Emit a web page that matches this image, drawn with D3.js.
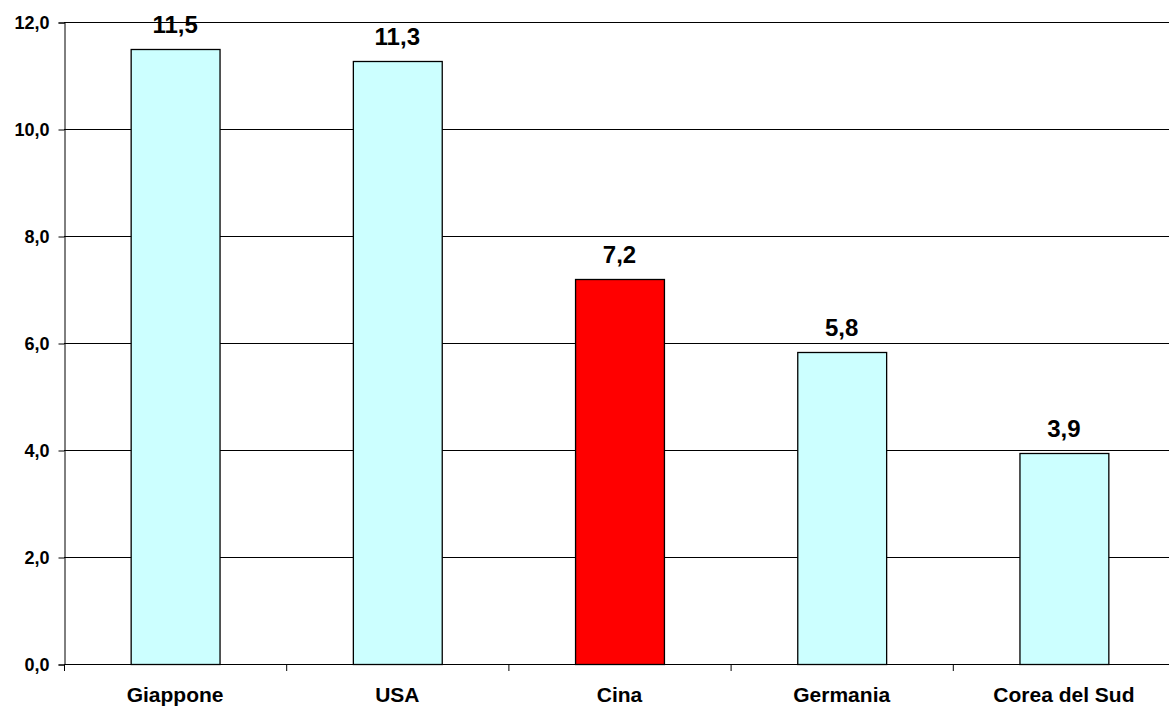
<!DOCTYPE html>
<html>
<head>
<meta charset="utf-8">
<script src="https://cdn.jsdelivr.net/npm/d3@7"></script>
<style>
  body { margin: 0; background: #fff; }
  svg text { font-family: "Liberation Sans", Arial, sans-serif; font-weight: bold; fill: #000; }
</style>
</head>
<body>
<svg class="chart"></svg>
<script>
const categories = ["Giappone", "USA", "Cina", "Germania", "Corea del Sud"];
const values = [11.5, 11.27, 7.2, 5.83, 3.94];
const barColors = ["#ccffff", "#ccffff", "#ff0000", "#ccffff", "#ccffff"];
const yTicks = [0, 2, 4, 6, 8, 10, 12];

(() => {
let W = 1169, H = 709,
    margin = {left: 64, right: 1175, top: 22, bottom: 664};

let svg = d3.select(".chart").attr("width", W).attr("height", H);

let x = d3.scaleBand().domain(categories).range([margin.left, margin.right]).paddingInner(0).paddingOuter(0);
let y = d3.scaleLinear().domain([0, 12]).range([margin.bottom, margin.top]);
let fmt = v => d3.format(".1f")(v).replace(".", ",");

// grid lines
svg.append("g").selectAll("line")
  .data(yTicks.filter(d => d > 0))
  .enter().append("line")
  .attr("x1", margin.left).attr("x2", margin.right)
  .attr("y1", d => y(d) + 0.5).attr("y2", d => y(d) + 0.5)
  .attr("stroke", "#000").attr("stroke-width", 1);

// y axis
let yAxis = d3.axisLeft(y).tickValues(yTicks).tickSize(6).tickPadding(9).tickFormat(fmt);
svg.append("g")
  .attr("transform", "translate(" + (margin.left + 0.5) + ",0.5)")
  .call(yAxis)
  .call(g => {
    g.selectAll(".tick text").style("font-size", "18px").attr("font-family", null);
    g.select(".domain").attr("stroke", "#000");
  });

// bars
svg.append("g").selectAll("rect")
  .data(values)
  .enter().append("rect")
  .attr("x", (d, i) => x(categories[i]) + x.bandwidth() * 0.3 + 0.5)
  .attr("width", x.bandwidth() * 0.4)
  .attr("y", d => Math.round(y(d)) + 0.5)
  .attr("height", d => margin.bottom - Math.round(y(d)))
  .attr("fill", (d, i) => barColors[i])
  .attr("stroke", "#000").attr("stroke-width", 1.3);

// x axis
let xAxis = d3.axisBottom(x).tickSize(0).tickPadding(23);
svg.append("g")
  .attr("transform", "translate(0," + (margin.bottom + 0.5) + ")")
  .call(xAxis)
  .call(g => {
    g.select(".domain").attr("d", "M" + margin.left + ",0H" + margin.right).attr("stroke", "#000");
    g.selectAll(".tick text").style("font-size", "21px").attr("font-family", null);
  });
svg.append("g").selectAll("line")
  .data(categories)
  .enter().append("line")
  .attr("x1", d => x(d) + 0.5).attr("x2", d => x(d) + 0.5)
  .attr("y1", margin.bottom).attr("y2", margin.bottom + 7)
  .attr("stroke", "#000");

// value labels
svg.append("g").selectAll("text")
  .data(values)
  .enter().append("text")
  .attr("x", (d, i) => x(categories[i]) + x.bandwidth() / 2)
  .attr("y", d => y(d) - 16)
  .attr("text-anchor", "middle")
  .style("font-size", "24px")
  .text(d => fmt(d));
})();
</script>
</body>
</html>
